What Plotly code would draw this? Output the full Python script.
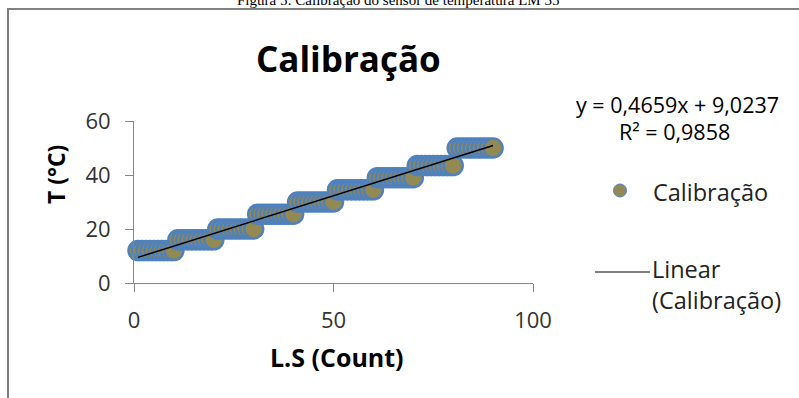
import plotly.graph_objects as go

# ---------------- data ----------------
ls_count = [1, 2, 3, 4, 5, 6, 7, 8, 9, 10,
            11, 12, 13, 14, 15, 16, 17, 18, 19, 20,
            21, 22, 23, 24, 25, 26, 27, 28, 29, 30,
            31, 32, 33, 34, 35, 36, 37, 38, 39, 40,
            41, 42, 43, 44, 45, 46, 47, 48, 49, 50,
            51, 52, 53, 54, 55, 56, 57, 58, 59, 60,
            61, 62, 63, 64, 65, 66, 67, 68, 69, 70,
            71, 72, 73, 74, 75, 76, 77, 78, 79, 80,
            81, 82, 83, 84, 85, 86, 87, 88, 89, 90]
temperature = [12, 12, 12, 12, 12, 12, 12, 12, 12, 12,
               16, 16, 16, 16, 16, 16, 16, 16, 16, 16,
               20, 20, 20, 20, 20, 20, 20, 20, 20, 20,
               25.5, 25.5, 25.5, 25.5, 25.5, 25.5, 25.5, 25.5, 25.5, 25.5,
               30, 30, 30, 30, 30, 30, 30, 30, 30, 30,
               34.5, 34.5, 34.5, 34.5, 34.5, 34.5, 34.5, 34.5, 34.5, 34.5,
               39, 39, 39, 39, 39, 39, 39, 39, 39, 39,
               43.5, 43.5, 43.5, 43.5, 43.5, 43.5, 43.5, 43.5, 43.5, 43.5,
               50, 50, 50, 50, 50, 50, 50, 50, 50, 50]
slope = 0.4659
intercept = 9.0237
r_squared = 0.9858
x_ticks = [0, 50, 100]
y_ticks = [0, 20, 40, 60]

title_text = "Calibração"
series_name = "Calibração"
trend_name = "Linear<br>(Calibração)"
x_title = "L.S (Count)"
y_title = "T (°C)"
caption = "Figura 5: Calibração do sensor de temperatura LM 35"
eq_line1 = "y = 0,4659x + 9,0237"
eq_line2 = "R² = 0,9858"

# ---------------- layout helpers ----------------
W, H = 799, 398
L, R, T, B = 134, 533, 121, 283  # plot area in pixels


def px(x):
    return (x - L) / (R - L)


def py(y):
    return (B - y) / (B - T)


FONT = "Open Sans"
MARK_FILL = "#938953"
MARK_LINE = "#4F81BD"
AXIS_COL = "#868686"

trend_x = [min(ls_count), max(ls_count)]
trend_y = [slope * v + intercept for v in trend_x]

fig = go.Figure()
fig.add_trace(go.Scatter(
    x=ls_count, y=temperature, mode="markers", name=series_name,
    marker=dict(size=19, color=MARK_FILL, line=dict(color=MARK_LINE, width=2.5)),
    showlegend=False, cliponaxis=False))
fig.add_trace(go.Scatter(
    x=trend_x, y=trend_y, mode="lines", name=trend_name,
    line=dict(color="black", width=1.5), showlegend=False))

ann = []
ann.append(dict(text=title_text, x=px(348), y=py(58), xref="paper", yref="paper",
                showarrow=False, font=dict(family=FONT, size=35, color="black", weight="bold"),
                xanchor="center", yanchor="middle"))
ann.append(dict(text=eq_line1, x=px(677), y=py(104), xref="paper", yref="paper",
                showarrow=False, font=dict(family=FONT, size=21.5, color="black"),
                xanchor="center", yanchor="middle"))
ann.append(dict(text=eq_line2, x=px(674), y=py(131), xref="paper", yref="paper",
                showarrow=False, font=dict(family=FONT, size=21.5, color="black"),
                xanchor="center", yanchor="middle"))
ann.append(dict(text=series_name, x=px(651), y=py(192), xref="paper", yref="paper",
                showarrow=False, font=dict(family=FONT, size=23.5, color="#222"),
                xanchor="left", yanchor="middle"))
ann.append(dict(text=trend_name, x=px(650), y=py(284), xref="paper", yref="paper",
                showarrow=False, font=dict(family=FONT, size=23.5, color="#222"),
                xanchor="left", yanchor="middle", align="left"))
ann.append(dict(text=x_title, x=px(337), y=py(357), xref="paper", yref="paper",
                showarrow=False, font=dict(family=FONT, size=25, color="black", weight="bold"),
                xanchor="center", yanchor="middle"))
ann.append(dict(text=y_title, x=px(56), y=py(175), xref="paper", yref="paper",
                showarrow=False, textangle=-90,
                font=dict(family=FONT, size=23, color="black", weight="bold"),
                xanchor="center", yanchor="middle"))
ann.append(dict(text=caption, x=px(398), y=py(0), xref="paper", yref="paper",
                showarrow=False, font=dict(family="Liberation Serif", size=15, color="black"),
                xanchor="center", yanchor="middle"))

shapes = [
    # chart frame
    dict(type="line", xref="paper", yref="paper", x0=px(8), x1=px(8), y0=py(9), y1=py(400),
         line=dict(color="#808080", width=2)),
    dict(type="line", xref="paper", yref="paper", x0=px(7), x1=px(801), y0=py(9), y1=py(9),
         line=dict(color="#808080", width=2)),
    # legend symbols
    dict(type="circle", xref="paper", yref="paper", x0=px(613.5), x1=px(626.5),
         y0=py(184), y1=py(197), fillcolor=MARK_FILL, line=dict(color=MARK_LINE, width=1)),
    dict(type="line", xref="paper", yref="paper", x0=px(595), x1=px(650), y0=py(272), y1=py(272),
         line=dict(color="black", width=1)),
]

axis_common = dict(showgrid=False, zeroline=False, showline=True, linecolor=AXIS_COL,
                   linewidth=1, ticks="outside", tickcolor=AXIS_COL, ticklen=8, tickwidth=1,
                   tickfont=dict(family=FONT, size=22, color="#333"))

fig.update_layout(
    width=W, height=H,
    margin=dict(l=L, r=W - R, t=T, b=H - B, pad=0),
    paper_bgcolor="white", plot_bgcolor="white",
    xaxis=dict(range=[0, 100], tickvals=x_ticks, ticklabelstandoff=10, **axis_common),
    yaxis=dict(range=[0, 60], tickvals=y_ticks, ticklabelstandoff=10, **axis_common),
    annotations=ann, shapes=shapes, showlegend=False,
)

fig.write_html("out.html", config={"displayModeBar": False},
               post_script="document.body.style.margin='0';document.body.style.overflow='hidden';")
